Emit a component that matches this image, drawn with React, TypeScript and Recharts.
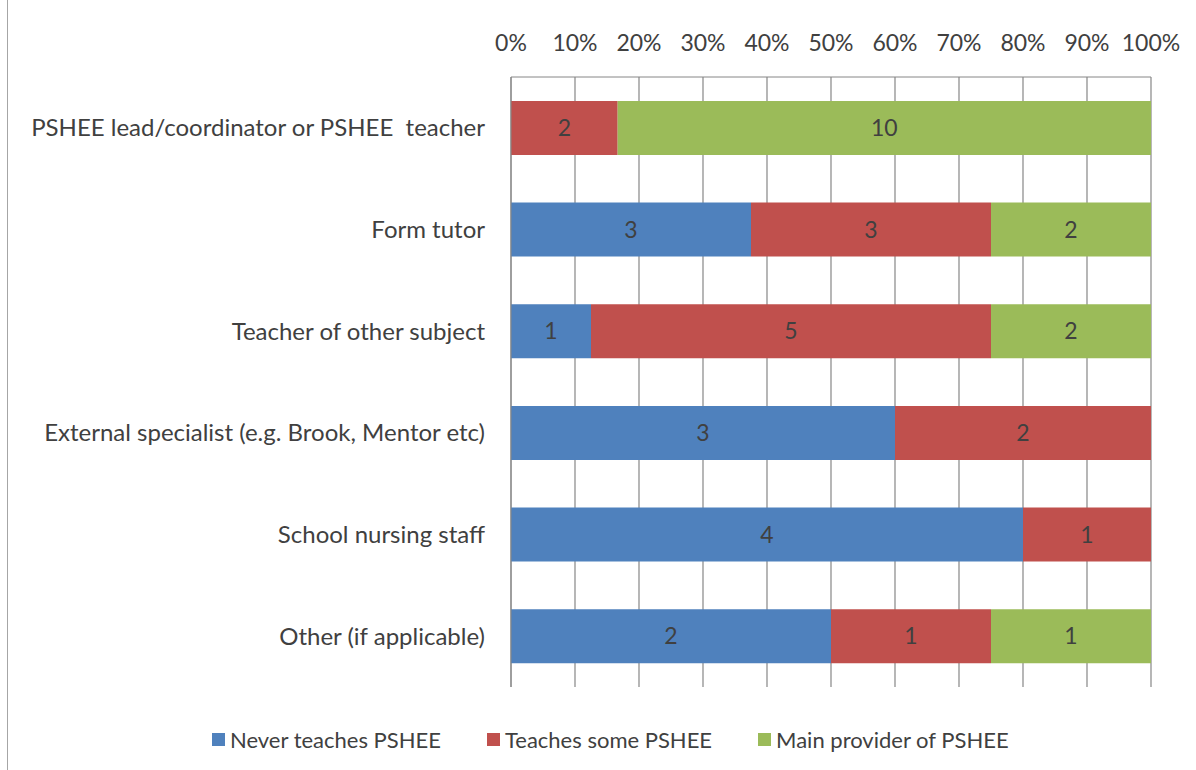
import React from "react";
import {
  BarChart,
  Bar,
  XAxis,
  YAxis,
  CartesianGrid,
  LabelList,
} from "recharts";

const roles = [
  "PSHEE lead/coordinator or PSHEE\u00a0 teacher",
  "Form tutor",
  "Teacher of other subject",
  "External specialist (e.g. Brook, Mentor etc)",
  "School nursing staff",
  "Other (if applicable)",
];

const neverTeaches = [0, 3, 1, 3, 4, 2];
const teachesSome = [2, 3, 5, 2, 1, 1];
const mainProvider = [10, 2, 2, 0, 0, 1];

const percentTicks = [0, 0.1, 0.2, 0.3, 0.4, 0.5, 0.6, 0.7, 0.8, 0.9, 1];

const seriesInfo = [
  { key: "never", name: "Never teaches PSHEE", color: "#4F81BD" },
  { key: "some", name: "Teaches some PSHEE", color: "#C0504D" },
  { key: "main", name: "Main provider of PSHEE", color: "#9BBB59" },
];

const rows = roles.map((role, i) => ({
  role,
  never: neverTeaches[i],
  some: teachesSome[i],
  main: mainProvider[i],
}));

const font = "Lato, 'Open Sans', sans-serif";
const textColor = "#404040";
const gridColor = "#868686";

// hide zero segments' labels
const showValue = (v: any) => (v && Number(v) !== 0 ? v : "");

export default function App() {
  return (
    <div
      style={{
        position: "absolute",
        left: 0,
        top: 0,
        width: 1196,
        height: 770,
        background: "#fff",
        fontFamily: font,
      }}
    >
      <div
        style={{
          position: "absolute",
          left: 7,
          top: 0,
          width: 1,
          height: 770,
          background: "#a6a6a6",
        }}
      />
      <BarChart
        width={1196}
        height={770}
        data={rows}
        layout="vertical"
        stackOffset="expand"
        barCategoryGap="23.5%"
        margin={{ top: 19, right: 45, bottom: 83, left: 0 }}
      >
        <CartesianGrid horizontal={false} vertical stroke={gridColor} strokeWidth={1.2} />
        <XAxis
          type="number"
          orientation="top"
          domain={[0, 1]}
          ticks={percentTicks}
          tickFormatter={(v: number) => `${Math.round(v * 100)}%`}
          height={58}
          axisLine={{ stroke: gridColor }}
          tickLine={false}
          tickMargin={20}
          tick={{ fontSize: 23, fill: textColor, fontFamily: font }}
          interval={0}
        />
        <YAxis
          type="category"
          dataKey="role"
          width={511}
          axisLine={{ stroke: gridColor }}
          tickLine={false}
          tickSize={0}
          tickMargin={26}
          tick={{ fontSize: 24, fill: textColor, fontFamily: font }}
          interval={0}
        />
        {seriesInfo.map((s) => (
          <Bar
            key={s.key}
            dataKey={s.key}
            name={s.name}
            stackId="a"
            fill={s.color}
            isAnimationActive={false}
          >
            <LabelList
              dataKey={s.key}
              position="center"
              formatter={showValue}
              style={{ fontSize: 23, fill: textColor, fontFamily: font }}
            />
          </Bar>
        ))}
      </BarChart>
      <div
        style={{
          position: "absolute",
          top: 726,
          left: 212,
          display: "flex",
          fontSize: 22,
          color: textColor,
          whiteSpace: "nowrap",
        }}
      >
        {seriesInfo.map((s, i) => (
          <div
            key={s.key}
            style={{
              display: "flex",
              alignItems: "center",
              marginLeft: i === 0 ? 0 : 46,
            }}
          >
            <span
              style={{
                display: "inline-block",
                width: 13,
                height: 13,
                background: s.color,
                marginRight: 5,
              }}
            />
            <span>{s.name}</span>
          </div>
        ))}
      </div>
    </div>
  );
}
